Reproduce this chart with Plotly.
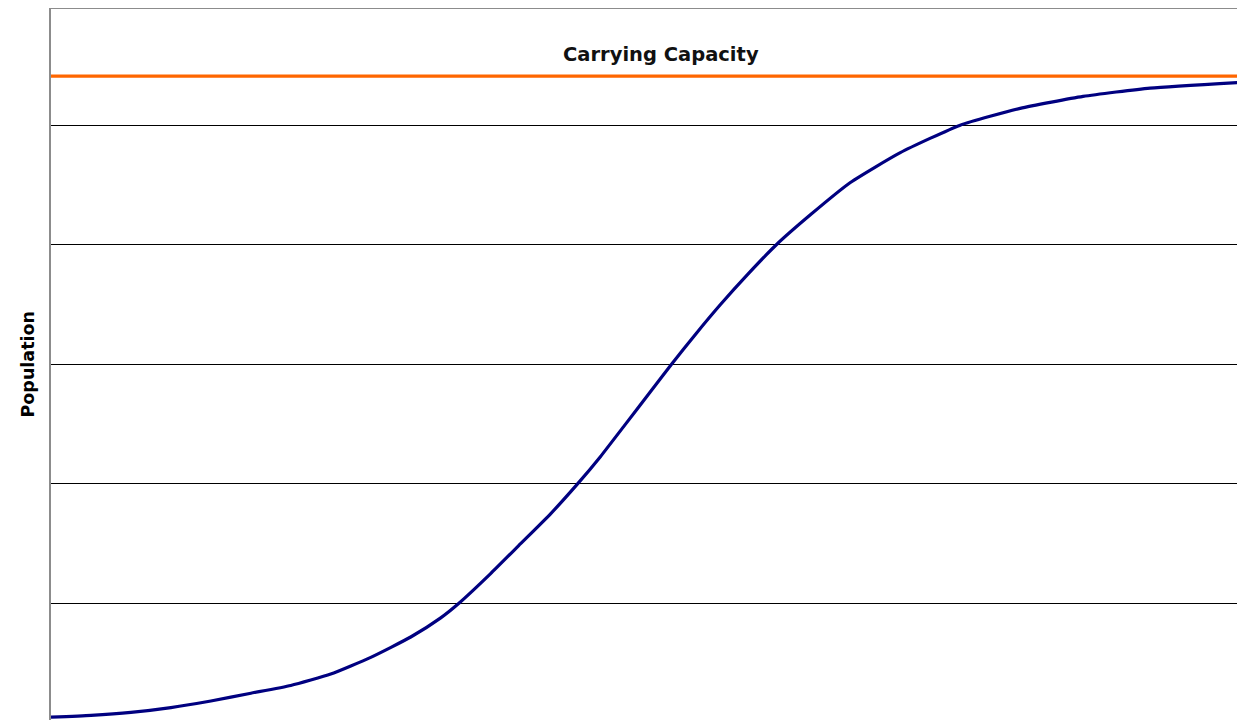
import plotly.graph_objects as go

# Time (arbitrary units) and population values
time = [0, 3.35, 6.69, 10.04, 13.39, 16.74, 20.08, 23.43, 26.78, 30.13, 32.64,
        34.14, 36.82, 39.33, 41.84, 44.10, 46.03, 48.12, 50.04, 51.97, 53.97,
        56.07, 58.33, 60.75, 63.60, 66.95, 71.13, 76.15, 81.17, 86.44, 92.05, 100]
population = [5, 6.5, 9, 13, 18.5, 25, 31.5, 41, 55, 72, 88, 100, 125, 150, 175,
              200, 223, 250, 275, 300, 325, 350, 375, 400, 425, 452, 477, 500,
              514, 524, 531, 536]
capacity_time = [0, 100]
capacity_value = [541, 541]
capacity_label = "Carrying Capacity"
y_title = "Population"

fig = go.Figure()
fig.add_trace(go.Scatter(x=capacity_time, y=capacity_value, mode="lines",
                         line=dict(color="#FF6600", width=3.2),
                         showlegend=False, hoverinfo="skip"))
fig.add_trace(go.Scatter(x=time, y=population, mode="lines",
                         line=dict(color="#000080", width=3.2, shape="spline", smoothing=0.5),
                         showlegend=False))

fig.add_annotation(x=51.1, y=559, xref="x", yref="y", text="<b>" + capacity_label + "</b>",
                   showarrow=False, font=dict(family="DejaVu Sans", size=19.5, color="#111111"),
                   xanchor="center", yanchor="middle")
fig.add_annotation(x=0, y=0.5, xref="paper", yref="paper", xshift=-24,
                   text="<b>" + y_title + "</b>", textangle=-90, showarrow=False,
                   font=dict(family="DejaVu Sans", size=17.5, color="black"),
                   xanchor="center", yanchor="middle")

fig.update_layout(
    width=1237, height=712,
    margin=dict(l=43, r=0, t=1, b=0),
    paper_bgcolor="white", plot_bgcolor="white",
    xaxis=dict(range=[0, 100], side="top", showline=True, linecolor="#8c8c8c",
               linewidth=1.6, showgrid=False, zeroline=False, showticklabels=False,
               ticks=""),
    yaxis=dict(range=[2.6, 597.1], showline=True, linecolor="#8c8c8c", linewidth=1.6,
               showgrid=True, gridcolor="black", gridwidth=1.4, dtick=100, tick0=0,
               zeroline=False, showticklabels=False, ticks=""),
)

fig.write_html("out.html")
